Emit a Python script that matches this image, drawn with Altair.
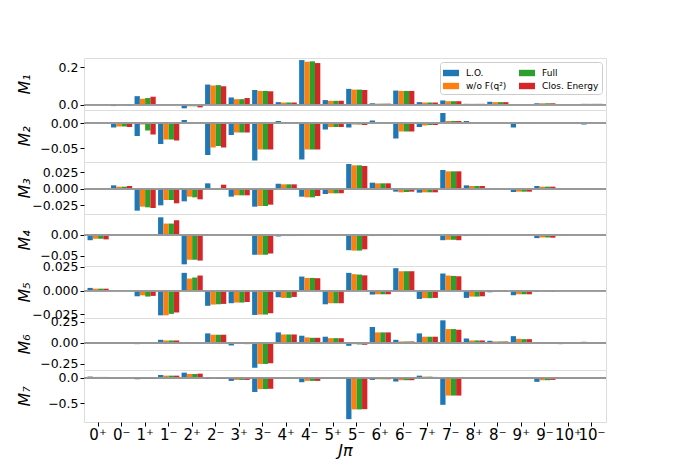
import altair as alt
import pandas as pd

CATS = ["0⁺", "0⁻", "1⁺", "1⁻", "2⁺", "2⁻", "3⁺", "3⁻", "4⁺", "4⁻", "5⁺",
        "5⁻", "6⁺", "6⁻", "7⁺", "7⁻", "8⁺", "8⁻", "9⁺", "9⁻", "10⁺", "10⁻"]
SERIES = ["L.O.", "w/o F(q²)", "Full", "Clos. Energy"]
COLORS = ["#1f77b4", "#ff7f0e", "#2ca02c", "#d62728"]

M1 = {
    "L.O.": [0, -0.008, 0.045, -0.002, -0.020, 0.107, 0.038, 0.078, 0.013, 0.238, 0.024, 0.084, 0.007, 0.075, 0.013, 0.022, 0.004, 0.015, 0, 0.007, 0.003, 0.004],
    "w/o F(q²)": [0, -0.005, 0.031, -0.003, -0.009, 0.102, 0.029, 0.073, 0.011, 0.229, 0.020, 0.080, 0.005, 0.073, 0.011, 0.018, 0.004, 0.013, 0, 0.007, 0.003, 0.004],
    "Full": [0, -0.005, 0.035, -0.003, -0.009, 0.104, 0.029, 0.073, 0.011, 0.231, 0.020, 0.080, 0.005, 0.073, 0.011, 0.018, 0.004, 0.013, 0, 0.007, 0.003, 0.004],
    "Clos. Energy": [0, -0.006, 0.042, -0.002, -0.015, 0.098, 0.035, 0.071, 0.011, 0.222, 0.020, 0.078, 0.005, 0.073, 0.011, 0.018, 0.004, 0.013, 0, 0.007, 0.003, 0.004],
}
M2 = {
    "L.O.": [0, -0.009, -0.026, -0.042, 0.006, -0.064, -0.024, -0.075, 0.004, -0.073, -0.013, -0.009, 0.005, -0.031, -0.008, 0.020, 0.004, 0.001, -0.009, 0.001, 0, -0.003],
    "w/o F(q²)": [0, -0.007, -0.003, -0.033, 0.002, -0.049, -0.019, -0.053, 0.002, -0.053, -0.008, -0.003, 0.001, -0.017, -0.005, 0.004, 0.0005, 0, -0.001, 0, 0, 0],
    "Full": [0, -0.007, -0.015, -0.033, 0.002, -0.046, -0.019, -0.053, 0.002, -0.053, -0.008, -0.003, 0.001, -0.017, -0.004, 0.004, 0.0005, 0, -0.001, 0, 0, 0],
    "Clos. Energy": [0, -0.008, -0.023, -0.035, 0.002, -0.049, -0.019, -0.053, 0.002, -0.053, -0.008, -0.004, 0.001, -0.017, -0.004, 0.004, 0.0005, 0, -0.001, 0, 0, 0],
}
M3 = {
    "L.O.": [0, 0.005, -0.033, -0.025, -0.019, 0.008, -0.012, -0.027, 0.0074, -0.012, -0.008, 0.037, 0.009, -0.0045, -0.006, 0.028, 0.005, -0.001, -0.005, 0.004, -0.001, -0.0015],
    "w/o F(q²)": [0, 0.003, -0.027, -0.017, -0.012, -0.001, -0.010, -0.026, 0.0065, -0.013, -0.007, 0.035, 0.008, -0.0055, -0.0055, 0.026, 0.004, -0.001, -0.0045, 0.003, -0.001, -0.0015],
    "Full": [0, 0.003, -0.028, -0.017, -0.013, 0.0005, -0.010, -0.026, 0.0065, -0.013, -0.007, 0.035, 0.008, -0.005, -0.0055, 0.026, 0.004, -0.001, -0.0045, 0.003, -0.001, -0.0015],
    "Clos. Energy": [0, 0.004, -0.029, -0.022, -0.016, 0.006, -0.010, -0.024, 0.0065, -0.011, -0.007, 0.034, 0.008, -0.0045, -0.0055, 0.026, 0.004, -0.001, -0.0045, 0.003, -0.001, -0.0015],
}
M4 = {
    "L.O.": [-0.013, 0, 0, 0.042, -0.071, 0, 0, -0.048, -0.004, 0, 0, -0.037, -0.003, 0, 0, -0.013, -0.003, 0, 0, -0.008, -0.0024, 0],
    "w/o F(q²)": [-0.0095, 0, 0, 0.027, -0.060, 0, 0, -0.048, -0.003, 0, 0, -0.038, -0.0024, 0, 0, -0.012, -0.0024, 0, 0, -0.0064, -0.0016, 0],
    "Full": [-0.0095, 0, 0, 0.027, -0.060, 0, 0, -0.048, -0.003, 0, 0, -0.038, -0.0024, 0, 0, -0.012, -0.0024, 0, 0, -0.0064, -0.0016, 0],
    "Clos. Energy": [-0.011, 0, 0, 0.035, -0.062, 0, 0, -0.045, -0.003, 0, 0, -0.035, -0.0024, 0, 0, -0.013, -0.0024, 0, 0, -0.007, -0.0016, 0],
}
M5 = {
    "L.O.": [0.0028, 0, -0.006, -0.026, 0.0186, -0.016, -0.0133, -0.0256, -0.007, 0.0147, -0.0144, 0.0186, -0.0042, 0.0235, -0.0088, 0.0179, -0.0077, -0.0018, -0.0049, -0.0014, -0.0007, -0.0007],
    "w/o F(q²)": [0.002, 0, -0.005, -0.026, 0.0126, -0.0147, -0.0126, -0.0252, -0.0077, 0.0133, -0.0133, 0.0172, -0.0039, 0.0203, -0.008, 0.0158, -0.0063, -0.0014, -0.0039, -0.001, -0.0007, -0.0007],
    "Full": [0.002, 0, -0.0063, -0.0245, 0.0137, -0.0144, -0.0126, -0.0252, -0.0077, 0.0133, -0.0133, 0.0168, -0.0039, 0.0203, -0.008, 0.0154, -0.0063, -0.0014, -0.0039, -0.001, -0.0007, -0.0007],
    "Clos. Energy": [0.002, 0, -0.0056, -0.023, 0.0158, -0.014, -0.012, -0.0238, -0.0067, 0.013, -0.0133, 0.016, -0.0039, 0.0203, -0.0077, 0.015, -0.006, -0.0014, -0.0039, -0.001, -0.0007, -0.0007],
}
M6 = {
    "L.O.": [0, 0, -0.016, 0.036, 0.008, 0.113, -0.032, -0.30, 0.125, 0.085, 0.073, -0.036, 0.19, 0.036, 0.113, 0.27, 0.052, 0.024, 0.08, 0.002, -0.016, 0.012],
    "w/o F(q²)": [0, 0, -0.008, 0.028, 0.004, 0.097, -0.012, -0.254, 0.10, 0.065, 0.056, -0.016, 0.125, 0.016, 0.073, 0.165, 0.028, 0.016, 0.048, 0.002, -0.004, 0.004],
    "Full": [0, 0, -0.008, 0.028, 0.004, 0.097, -0.012, -0.254, 0.10, 0.06, 0.056, -0.02, 0.125, 0.016, 0.073, 0.165, 0.028, 0.016, 0.044, 0.002, -0.004, 0.004],
    "Clos. Energy": [0, 0, -0.008, 0.028, 0.004, 0.097, -0.016, -0.246, 0.10, 0.06, 0.056, -0.024, 0.125, 0.016, 0.073, 0.157, 0.028, 0.016, 0.044, 0.002, -0.004, 0.004],
}
M7 = {
    "L.O.": [0.02, 0, -0.032, 0.051, 0.096, -0.026, -0.064, -0.28, -0.006, -0.09, -0.003, -0.81, -0.045, -0.077, 0.038, -0.53, -0.006, 0, 0, -0.083, 0, 0],
    "w/o F(q²)": [0.013, 0, -0.026, 0.038, 0.07, -0.019, -0.045, -0.224, -0.005, -0.064, -0.002, -0.62, -0.032, -0.051, 0.019, -0.35, -0.004, 0, 0, -0.051, 0, 0],
    "Full": [0.013, 0, -0.026, 0.038, 0.07, -0.019, -0.045, -0.224, -0.005, -0.064, -0.002, -0.62, -0.032, -0.051, 0.019, -0.35, -0.004, 0, 0, -0.051, 0, 0],
    "Clos. Energy": [0.013, 0, -0.026, 0.038, 0.077, -0.019, -0.045, -0.218, -0.005, -0.064, -0.002, -0.615, -0.032, -0.051, 0.013, -0.35, -0.004, 0, 0, -0.045, 0, 0],
}

PANELS = [
    ("M₁", M1, [-0.029, 0.249], [0.0, 0.2], ".1f"),
    ("M₂", M2, [-0.078, 0.026], [-0.05, 0.0], ".2f"),
    ("M₃", M3, [-0.038, 0.040], [-0.025, 0.0, 0.025], ".3f"),
    ("M₄", M4, [-0.075, 0.050], [-0.05, 0.0], ".2f"),
    ("M₅", M5, [-0.0288, 0.0258], [-0.025, 0.0, 0.025], ".3f"),
    ("M₆", M6, [-0.327, 0.298], [-0.25, 0.0, 0.25], ".2f"),
    ("M₇", M7, [-0.865, 0.148], [-0.5, 0.0], ".1f"),
]

W, H = 522, 52

charts = []
for i, (title, d, dom, ticks, fmt) in enumerate(PANELS):
    rows = []
    for s in SERIES:
        for c, v in zip(CATS, d[s]):
            rows.append({"J": c, "series": s, "value": v})
    df = pd.DataFrame(rows)
    last = i == len(PANELS) - 1
    first = i == 0
    if last:
        xaxis = alt.Axis(title="Jπ", titleFontSize=16, titleFontStyle="italic",
                         titleFontWeight="normal", labelAngle=0, labelFontSize=15,
                         tickSize=4, domain=False, titlePadding=0, labelPadding=1)
    else:
        xaxis = None
    legend = (alt.Legend(title=None, orient="top-right", columns=2, offset=4,
                         symbolType="M-1,-0.4H1V0.4H-1Z", symbolSize=256,
                         symbolStrokeWidth=0, labelFontSize=9, columnPadding=12,
                         rowPadding=0, padding=3, strokeColor="#cccccc",
                         fillColor="white", cornerRadius=3, symbolOpacity=1,
                         labelOffset=7)
              if first else None)
    yaxis = alt.Axis(title=title, values=ticks, format=fmt, grid=False,
                     domain=False, tickSize=4, labelFontSize=12.5,
                     titleFontSize=16, titleFontStyle="italic",
                     titleFontWeight="normal", titleX=-60, titleY=H / 2,
                     titleAngle=270, titleBaseline="middle",
                     titleAlign="center", labelOverlap=False)
    bars = alt.Chart(df).mark_bar(opacity=1).encode(
        x=alt.X("J:N", sort=CATS, axis=xaxis,
                scale=alt.Scale(paddingInner=0.1, paddingOuter=0.15)),
        xOffset=alt.XOffset("series:N", sort=SERIES,
                            scale=alt.Scale(paddingInner=0, paddingOuter=0)),
        y=alt.Y("value:Q",
                scale=alt.Scale(domain=dom, nice=False, zero=False),
                axis=yaxis),
        color=alt.Color("series:N", scale=alt.Scale(domain=SERIES, range=COLORS),
                        legend=legend),
    )
    zero = alt.Chart(df).mark_rule(color="#999999", strokeWidth=1).encode(
        y=alt.YDatum(0, axis=yaxis))
    charts.append(alt.layer(bars, zero).properties(width=W, height=H))

chart = alt.vconcat(*charts, spacing=0, bounds="flush").resolve_legend(
    color="independent").resolve_scale(color="shared").properties(
    padding={"left": 7, "top": 49, "right": 10, "bottom": 5}
).configure_view(stroke="black", strokeWidth=1).configure(
    font="DejaVu Sans"
).configure_axis(labelColor="black", titleColor="black", tickColor="black",
                 labelFont="DejaVu Sans", titleFont="DejaVu Sans"
).configure_legend(labelFont="DejaVu Sans", labelColor="black")

chart.save("out.html", embed_options={"renderer": "svg", "actions": False})
